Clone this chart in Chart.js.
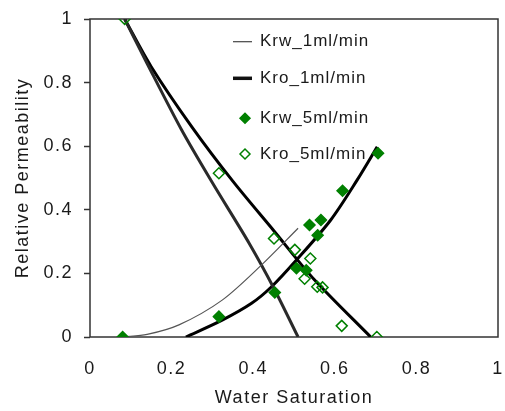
<!DOCTYPE html>
<html>
<head>
<meta charset="utf-8">
<title>Relative Permeability</title>
<script src="https://cdn.jsdelivr.net/npm/chart.js@4/dist/chart.umd.min.js"></script>
<style>
    body { margin: 0; background: #ffffff; }
    canvas { display: block; }
</style>
</head>
<body>
<canvas id="grafico" width="505" height="411"></canvas>
<script>
// curvas 1 ml/min
const krw1X = [0.08, 0.14, 0.218, 0.324, 0.42, 0.51];
const krw1Y = [0, 0.008, 0.038, 0.116, 0.226, 0.342];
const kro1X = [0.085, 0.14, 0.225, 0.30, 0.39, 0.45, 0.51];
const kro1Y = [1, 0.86, 0.65, 0.485, 0.295, 0.155, 0];

// curvas ajustadas 5 ml/min (sem legenda)
const krwAjusteX = [0.235, 0.324, 0.396, 0.445, 0.506, 0.59, 0.655, 0.704];
const krwAjusteY = [0, 0.053, 0.106, 0.158, 0.242, 0.368, 0.494, 0.598];
const kroAjusteX = [0.085, 0.15, 0.25, 0.35, 0.45, 0.55, 0.688];
const kroAjusteY = [1, 0.85, 0.66, 0.49, 0.335, 0.18, 0];

// pontos medidos 5 ml/min
const krw5X = [0.08, 0.316, 0.453, 0.506, 0.53, 0.538, 0.558, 0.566, 0.619, 0.706];
const krw5Y = [0, 0.064, 0.14, 0.216, 0.21, 0.352, 0.32, 0.368, 0.46, 0.578];
const kro5X = [0.085, 0.316, 0.451, 0.502, 0.54, 0.526, 0.557, 0.57, 0.617, 0.703];
const kro5Y = [1, 0.515, 0.31, 0.274, 0.247, 0.183, 0.158, 0.156, 0.035, 0];

const ticksEixo = [0, 0.2, 0.4, 0.6, 0.8, 1];
const rotulos = ["Krw_1ml/min", "Kro_1ml/min", "Krw_5ml/min", "Kro_5ml/min"];

const verde = "#008000";
const fonte = "'Liberation Sans', Arial, sans-serif";

function pontos(xs, ys) {
    return xs.map(function (x, i) {
        return { x: x, y: ys[i] };
    });
}

function serieLinha(label, xs, ys, cor, largura) {
    return {
        label: label,
        data: pontos(xs, ys),
        showLine: true,
        borderColor: cor,
        borderWidth: largura,
        pointRadius: 0,
        tension: 0.3,
        order: 1
    };
}

function seriePontos(label, xs, ys, cheio) {
    return {
        label: label,
        data: pontos(xs, ys),
        showLine: false,
        pointStyle: "rectRot",
        pointRadius: 5.5,
        pointBorderWidth: 1.5,
        pointBorderColor: verde,
        pointBackgroundColor: cheio ? verde : "rgba(255,255,255,0)",
        order: 0
    };
}

// caixa em volta da area do grafico
const pluginMoldura = {
    id: "moldura",
    beforeDraw: function (chart) {
        chart.ctx.letterSpacing = "1.5px";
    },
    beforeDatasetsDraw: function (chart) {
        const a = chart.chartArea;
        const ctx = chart.ctx;
        ctx.save();
        ctx.strokeStyle = "#333333";
        ctx.lineWidth = 1.5;
        ctx.strokeRect(a.left, a.top, a.right - a.left, a.bottom - a.top);
        ctx.restore();
    }
};

// legenda desenhada dentro da area
const pluginLegenda = {
    id: "legendaInterna",
    afterDatasetsDraw: function (chart) {
        const ctx = chart.ctx;
        const linhasY = [41.7, 78.3, 118.3, 154];
        ctx.save();
        ctx.letterSpacing = "1px";
        ctx.font = "17px " + fonte;
        ctx.textBaseline = "middle";
        ctx.textAlign = "left";

        ctx.strokeStyle = "#444444";
        ctx.lineWidth = 1.2;
        ctx.beginPath();
        ctx.moveTo(233, linhasY[0]);
        ctx.lineTo(252, linhasY[0]);
        ctx.stroke();

        ctx.strokeStyle = "#111111";
        ctx.lineWidth = 3.5;
        ctx.beginPath();
        ctx.moveTo(233, linhasY[1]);
        ctx.lineTo(252, linhasY[1]);
        ctx.stroke();

        ctx.fillStyle = verde;
        ctx.strokeStyle = verde;
        ctx.lineWidth = 1.5;
        Chart.helpers.drawPoint(ctx, {
            pointStyle: "rectRot", radius: 5, borderWidth: 1.5
        }, 245, linhasY[2]);

        ctx.fillStyle = "#ffffff";
        Chart.helpers.drawPoint(ctx, {
            pointStyle: "rectRot", radius: 5, borderWidth: 1.5
        }, 245, linhasY[3]);

        ctx.fillStyle = "#1a1a1a";
        rotulos.forEach(function (txt, i) {
            ctx.fillText(txt, 260, linhasY[i]);
        });
        ctx.restore();
    }
};

function rotuloTick(valor) {
    return String(Math.round(valor * 10) / 10);
}

new Chart(document.getElementById("grafico"), {
    type: "scatter",
    data: {
        datasets: [
            serieLinha(rotulos[0], krw1X, krw1Y, "#555555", 1.2),
            serieLinha(rotulos[1], kro1X, kro1Y, "#2a2a2a", 3),
            serieLinha("", krwAjusteX, krwAjusteY, "#000000", 3),
            serieLinha("", kroAjusteX, kroAjusteY, "#000000", 3),
            seriePontos(rotulos[2], krw5X, krw5Y, true),
            seriePontos(rotulos[3], kro5X, kro5Y, false)
        ]
    },
    options: {
        responsive: false,
        animation: false,
        layout: {
            padding: { top: 19, right: 1, left: 0, bottom: 0 }
        },
        plugins: {
            legend: { display: false },
            tooltip: { enabled: false }
        },
        scales: {
            x: {
                type: "linear",
                min: 0,
                max: 1,
                afterBuildTicks: function (scale) {
                    scale.ticks = ticksEixo.map(function (v) { return { value: v }; });
                },
                afterFit: function (scale) {
                    scale.height = 74;
                    scale.paddingLeft = 0;
                    scale.paddingRight = 0;
                },
                border: { display: false },
                grid: { display: false },
                ticks: {
                    padding: 13,
                    maxRotation: 0,
                    color: "#1a1a1a",
                    callback: rotuloTick,
                    font: { family: fonte, size: 18 }
                },
                title: {
                    display: true,
                    text: "Water Saturation",
                    color: "#1a1a1a",
                    padding: { top: 0, bottom: 2 },
                    font: { family: fonte, size: 18 }
                }
            },
            y: {
                type: "linear",
                min: 0,
                max: 1,
                afterBuildTicks: function (scale) {
                    scale.ticks = ticksEixo.map(function (v) { return { value: v }; });
                },
                afterFit: function (scale) {
                    scale.width = 90;
                    scale.paddingTop = 0;
                    scale.paddingBottom = 0;
                },
                border: { display: false },
                grid: {
                    drawOnChartArea: false,
                    tickLength: 6,
                    tickWidth: 1.5,
                    color: "#333333"
                },
                ticks: {
                    padding: 11,
                    color: "#1a1a1a",
                    callback: rotuloTick,
                    font: { family: fonte, size: 18 }
                },
                title: {
                    display: true,
                    text: "Relative Permeability",
                    color: "#1a1a1a",
                    padding: { top: 12, bottom: 0 },
                    font: { family: fonte, size: 18 }
                }
            }
        }
    },
    plugins: [pluginMoldura, pluginLegenda]
});
</script>
</body>
</html>
